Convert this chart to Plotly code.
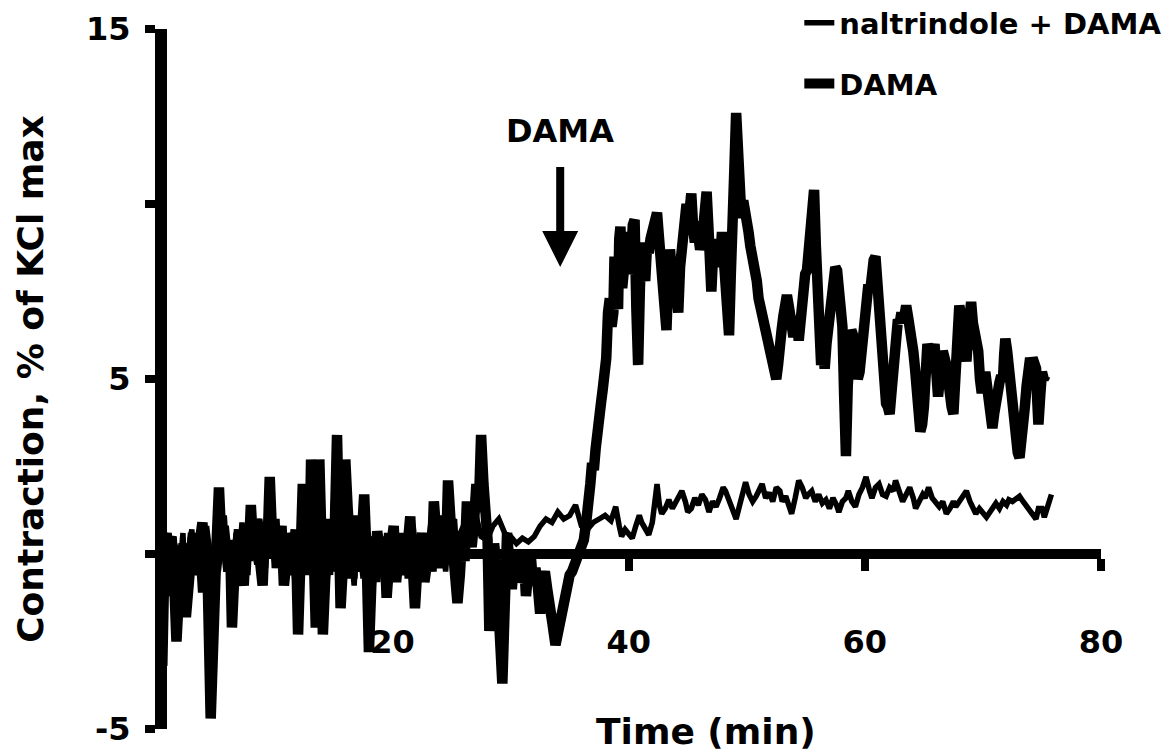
import plotly.graph_objects as go

# ---------------- data ----------------
# DAMA alone (thick trace): time (min), contraction (% of KCl max)
dama_t = [0.0, 0.15, 0.3, 0.4, 0.5, 0.62, 0.75, 0.87, 1.0, 1.2, 1.4, 1.55, 1.7, 1.9, 2.1, 2.3, 2.5, 2.7, 2.9, 3.1,
          3.3, 3.5, 3.7, 3.9, 4.1, 4.35, 4.6, 4.75, 4.9, 5.1, 5.3, 5.5, 5.7, 5.9, 6.1, 6.25, 6.4, 6.6, 6.8, 7.0,
          7.2, 7.4, 7.6, 7.8, 8.0, 8.2, 8.4, 8.6, 8.8, 9.0, 9.2, 9.4, 9.6, 9.8, 10.0, 10.2, 10.4, 10.6, 10.8, 11.0,
          11.2, 11.4, 11.6, 11.8, 12.0, 12.2, 12.4, 12.6, 12.8, 12.95, 13.1, 13.3, 13.5, 13.65, 13.8, 13.95, 14.1, 14.3, 14.5, 14.7,
          14.9, 15.1, 15.3, 15.45, 15.6, 15.8, 16.0, 16.2, 16.4, 16.6, 16.8, 17.0, 17.2, 17.4, 17.6, 17.8, 18.0, 18.2, 18.4, 18.55,
          18.7, 18.9, 19.1, 19.3, 19.5, 19.7, 19.9, 20.1, 20.3, 20.5, 20.7, 20.9, 21.1, 21.3, 21.5, 21.7, 21.9, 22.1, 22.3, 22.5,
          22.7, 22.9, 23.1, 23.3, 23.5, 23.7, 23.9, 24.1, 24.3, 24.5, 24.7, 24.9, 25.1, 25.3, 25.5, 25.7, 25.9, 26.1, 26.3, 26.5,
          26.7, 26.9, 27.1, 27.3, 27.5, 27.7, 27.9, 28.05, 28.2, 28.4, 28.6, 28.8, 29.0, 29.15, 29.3, 29.5, 29.7, 29.9, 30.1, 30.3,
          30.5, 30.7, 30.9, 31.1, 31.3, 31.5, 31.7, 31.9, 32.1, 32.3, 32.5, 32.7, 32.9, 33.1, 33.3, 33.55, 33.8, 34.0, 34.2, 34.4,
          34.6, 34.8, 35.0, 35.2, 35.4, 35.6, 35.8,
          36.2, 36.4, 36.6, 36.75, 36.9, 37.05, 37.2, 37.35, 37.5, 37.65, 37.8, 37.95, 38.1, 38.25, 38.4, 38.55, 38.7, 38.8,
          38.9, 39.0, 39.1, 39.2, 39.3, 39.45, 39.6, 39.75, 39.9, 40.05, 40.2, 40.35, 40.5, 40.65, 40.8, 40.95, 41.1, 41.25,
          41.4, 41.55, 41.7, 41.85, 42.0, 42.2, 42.4, 42.55, 42.7, 42.85, 43.0, 43.1, 43.2, 43.35, 43.5, 43.65, 43.8, 44.0,
          44.2, 44.35, 44.5, 44.7, 44.9, 45.1, 45.3, 45.45, 45.6, 45.75, 45.9, 46.05, 46.2, 46.4, 46.6, 46.8, 47.0, 47.15,
          47.3, 47.45, 47.6, 47.75, 47.9, 48.05, 48.2, 48.35, 48.5, 48.65, 48.8, 48.95, 49.1, 49.25, 49.4, 49.55, 49.7, 49.85,
          50.0, 50.15, 50.3, 50.5, 50.7, 50.85, 51.0, 51.2, 51.4, 51.6, 51.8, 51.95, 52.1, 52.3, 52.5, 52.65, 52.8, 52.95,
          53.1, 53.25, 53.4, 53.6, 53.8, 53.95, 54.1, 54.25, 54.4, 54.6, 54.8, 54.95, 55.1, 55.25, 55.4, 55.55, 55.7, 55.85,
          56.0, 56.15, 56.3, 56.45, 56.6, 56.75, 56.9, 57.05, 57.2, 57.35, 57.5, 57.65, 57.8, 57.95, 58.1, 58.25, 58.4, 58.55,
          58.7, 58.85, 59.0, 59.2, 59.4, 59.55, 59.7, 59.85, 60.0, 60.15, 60.3, 60.45, 60.6, 60.75, 60.9, 61.05, 61.2, 61.35,
          61.5, 61.65, 61.8, 61.95, 62.1, 62.25, 62.4, 62.6, 62.8, 62.95, 63.1, 63.3, 63.5, 63.65, 63.8, 63.95, 64.1, 64.25,
          64.4, 64.55, 64.7, 64.85, 65.0, 65.15, 65.3, 65.45, 65.6, 65.75, 65.9, 66.05, 66.2, 66.4, 66.6, 66.75, 66.9, 67.05,
          67.2, 67.35, 67.5, 67.65, 67.8, 67.9, 68.0, 68.15, 68.3, 68.45, 68.6, 68.8, 69.0, 69.15, 69.3, 69.45, 69.6, 69.75,
          69.9, 70.05, 70.2, 70.35, 70.5, 70.65, 70.8, 70.95, 71.1, 71.25, 71.4, 71.55, 71.7, 71.8, 71.9, 72.05, 72.2, 72.35,
          72.5, 72.65, 72.8, 72.95, 73.1, 73.25, 73.4, 73.55, 73.7, 73.85, 74.0, 74.1, 74.2, 74.35, 74.5, 74.6, 74.7, 74.85,
          75.0, 75.15, 75.3]
dama_y = [-1.8, -0.5, 0.5, -1.0, -3.2, -1.2, 0.3, 0.6, -1.0, 0.4, 0.2, -0.6, -2.5, -1.2, -0.5, 0.3, -1.8, -0.9, 0.3, 0.6,
          -0.6, -0.2, 0.5, 0.9, -0.3, -0.8, -4.7, -2.0, -1.0, 0.3, 1.9, 0.4, 0.8, -0.3, -0.5, 0.3, -2.1, -0.6, 0.2, 0.7,
          -0.4, -0.9, 0.6, -0.2, 1.4, 0.2, 1.0, 0.5, -0.2, -0.9, 0.8, 0.1, 2.2, 0.5, 1.0, -0.4, 0.3, 0.8, -0.9, -0.1,
          0.4, -0.6, 0.0, 0.7, -2.3, -0.5, 2.0, -0.3, 0.5, -0.6, 2.7, 0.4, -2.1, -0.2, 2.7, 0.8, -2.3, -0.7, 0.5, 1.0,
          -0.5, 0.6, 3.4, 1.2, -1.55, -0.3, 2.7, 1.3, 0.3, -0.7, 1.1, 0.2, -0.5, 0.5, 1.7, 0.0, -2.8, -0.9, 0.2, -0.5,
          0.65, 0.1, -0.3, 0.5, -1.25, -0.3, 0.4, 0.8, -0.8, 0.2, 0.6, -0.6, -0.2, 0.3, 1.07, 0.0, -1.55, -0.4, 0.3, 0.6,
          -0.8, -0.2, 0.2, -0.5, 1.5, 0.6, -0.4, 0.2, 0.8, -0.3, 2.1, 1.0, 0.4, -0.3, -1.4, -0.6, 0.5, -0.2, 1.5, 0.7,
          0.2, 0.9, 2.0, 1.2, 3.4, 2.0, 1.1, 0.4, -2.2, -0.8, 0.3, -0.4, -1.5, -2.4, -3.7, -1.5, 0.6, -0.3, -1.0, -0.2,
          0.1, -0.8, -0.6, 0.0, -1.2, -0.5, 0.0, -0.9, -0.4, -0.9, -1.7, -0.8, -0.5, -1.0, -1.3, -2.0, -2.6, -2.2, -2.0, -1.8,
          -1.3, -0.8, -0.6, -0.5, -0.3, -0.1, 0.15,
          0.4, 0.9, 1.3, 2.0, 2.6, 2.4, 3.0, 3.3, 3.6, 4.3, 4.7, 5.2, 5.6, 6.9, 7.3, 6.5, 6.9, 8.5,
          8.2, 7.2, 7.0, 9.0, 9.35, 7.6, 8.2, 8.9, 9.2, 8.0, 8.4, 9.4, 9.55, 7.0, 5.4, 7.6, 8.9, 8.4,
          7.8, 8.8, 8.6, 9.0, 9.3, 9.5, 9.75, 9.1, 8.5, 7.8, 7.0, 6.6, 6.4, 7.9, 8.7, 8.0, 8.2, 7.6,
          6.9, 8.2, 8.6, 9.4, 10.0, 9.6, 10.3, 9.4, 8.9, 9.5, 9.0, 8.7, 8.9, 9.9, 10.35, 9.0, 7.5, 8.6,
          8.2, 9.0, 8.8, 8.4, 9.2, 8.6, 7.6, 6.8, 6.25, 8.0, 9.0, 11.0, 12.6, 11.4, 10.4, 9.6, 10.1, 9.9,
          9.5, 9.2, 8.8, 8.5, 8.0, 7.8, 7.3, 7.0, 6.8, 6.5, 6.3, 5.9, 5.6, 5.3, 5.0, 5.4, 5.7, 6.4,
          6.8, 7.1, 7.4, 7.0, 6.7, 6.2, 6.5, 6.8, 6.1, 7.2, 7.5, 8.0, 8.1, 8.8, 9.0, 9.8, 10.4, 8.8,
          7.5, 6.4, 5.4, 5.9, 5.3, 6.0, 6.5, 7.2, 7.6, 8.0, 8.2, 8.1, 7.6, 7.0, 6.5, 4.5, 2.8, 4.8,
          6.0, 6.4, 6.25, 5.5, 5.0, 5.2, 5.6, 6.3, 6.8, 7.3, 7.7, 7.5, 8.2, 8.4, 8.5, 7.6, 6.7, 6.2,
          5.8, 5.0, 4.3, 4.2, 4.0, 4.6, 5.3, 6.3, 6.7, 6.6, 6.9, 6.7, 7.1, 6.8, 6.2, 6.0, 5.8, 5.3,
          4.8, 4.0, 3.5, 3.7, 4.2, 5.2, 6.0, 5.8, 5.5, 5.9, 6.0, 5.2, 4.5, 5.2, 5.8, 5.6, 5.4, 4.8,
          4.5, 4.2, 4.0, 4.8, 5.6, 6.4, 7.1, 6.8, 6.5, 5.9, 5.5, 6.5, 7.2, 6.6, 6.3, 6.0, 5.8, 5.0,
          4.6, 4.9, 5.2, 4.8, 4.3, 3.9, 3.6, 4.0, 4.5, 4.8, 4.9, 5.1, 5.0, 5.7, 6.15, 5.8, 5.3, 4.6,
          4.0, 3.5, 3.3, 2.9, 2.75, 3.1, 3.6, 4.2, 4.8, 5.3, 5.6, 5.4, 5.6, 5.5, 5.3, 4.4, 3.7, 4.5,
          5.2, 5.0, 5.1]

# naltrindole + DAMA (thin trace)
nal_t = [0.0, 0.25, 0.5, 0.75, 1.0, 1.25, 1.5, 1.75, 2.0, 2.25, 2.5, 2.75, 3.0, 3.25, 3.5, 3.75, 4.0, 4.25, 4.5, 4.75,
         5.0, 5.25, 5.5, 5.75, 6.0, 6.25, 6.5, 6.75, 7.0, 7.25, 7.5, 7.75, 8.0, 8.25, 8.5, 8.75, 9.0, 9.25, 9.5, 9.75,
         10.0, 10.25, 10.5, 10.75, 11.0, 11.25, 11.5, 11.75, 12.0, 12.25, 12.5, 12.75, 13.0, 13.25, 13.5, 13.75, 14.0, 14.25, 14.5, 14.75,
         15.0, 15.25, 15.5, 15.75, 16.0, 16.25, 16.5, 16.75, 17.0, 17.25, 17.5, 17.75, 18.0, 18.25, 18.5, 18.75, 19.0, 19.25, 19.5, 19.75,
         20.0, 20.25, 20.5, 20.75, 21.0, 21.25, 21.5, 21.75, 22.0, 22.25, 22.5, 22.75, 23.0, 23.25, 23.5, 23.75, 24.0, 24.25, 24.5, 24.75,
         25.0, 25.25, 25.5, 25.75, 26.0, 26.5, 27.0, 27.5, 28.0, 28.5, 29.0, 29.5, 30.0, 30.5, 31.0, 31.5, 32.0, 32.5, 33.0, 33.5,
         34.0, 34.5, 35.0, 35.5, 36.0, 36.5, 37.0, 37.5, 38.0, 38.5, 38.9, 39.2, 39.4, 39.7, 40.0, 40.3, 40.6, 40.9, 41.1, 41.4,
         41.7, 42.0, 42.2, 42.4, 42.6, 42.8, 43.1, 43.4, 43.7, 44.0, 44.2, 44.5, 44.8, 45.0, 45.3, 45.6, 45.9, 46.2, 46.5, 46.8,
         47.1, 47.4, 47.7, 48.0, 48.2, 48.5, 48.8, 49.1, 49.4, 49.7, 49.9, 50.2, 50.5, 50.8, 51.0, 51.3, 51.6, 51.9, 52.2, 52.5,
         52.8, 53.0, 53.3, 53.6, 53.8, 54.1, 54.4, 54.7, 55.0, 55.2, 55.5, 55.8, 56.1, 56.4, 56.7, 57.0, 57.3, 57.6, 57.8, 58.1,
         58.4, 58.6, 58.9, 59.2, 59.5, 59.8, 60.1, 60.4, 60.6, 60.9, 61.2, 61.5, 61.8, 62.1, 62.4, 62.6, 62.9, 63.2, 63.5, 63.8,
         64.1, 64.3, 64.6, 64.9, 65.1, 65.4, 65.7, 66.0, 66.3, 66.6, 66.9, 67.2, 67.5, 67.7, 68.0, 68.3, 68.6, 68.9, 69.2, 69.4,
         69.7, 70.0, 70.3, 70.6, 70.9, 71.1, 71.4, 71.7, 72.0, 72.2, 72.5, 72.8, 73.1, 73.4, 73.6, 73.9, 74.2, 74.5, 74.7, 75.0,
         75.2, 75.5, 75.8]
nal_y = [-1.5, 0.4, -0.8, 0.6, -1.2, 0.3, 0.5, -0.9, -0.4, 0.6, -1.3, 0.2, 0.7, -0.4, 0.3, -1.1, -0.2, 0.8, 0.1, -0.9,
         0.8, -0.5, 0.3, 1.1, -0.3, 0.4, -0.8, 0.6, -0.2, 0.9, 0.1, -0.6, 0.9, 0.3, -0.3, 1.0, 0.5, -0.4, 1.3, 0.6,
         -0.2, 0.8, 0.2, -0.7, -0.2, 0.6, 0.3, -0.9, -0.3, 0.9, 0.4, -0.5, 0.1, 1.2, 0.5, -0.7, 0.2, 0.9, 0.4, -0.6,
         1.5, 0.6, 0.2, 1.0, -0.4, 0.7, 0.1, -0.9, 0.6, 0.2, -0.7, 0.4, -0.6, 0.5, 0.1, -0.8, 0.2, -0.5, 0.6, -0.3,
         0.4, -0.6, 0.3, -0.2, 0.5, -0.7, 0.2, 0.8, -0.4, 0.3, -0.6, 0.6, 0.2, 0.9, -0.2, 0.5, 1.1, 0.3, -0.5, 0.8,
         0.3, 1.0, -0.4, 0.6, 0.8, 0.4, 1.2, 0.5, 0.4, 0.8, 1.0, 0.6, 0.5, 0.3, 0.45, 0.35, 0.5, 0.8, 1.0, 0.9,
         1.2, 1.0, 1.1, 1.4, 0.8, 0.7, 0.9, 1.0, 1.1, 0.95, 1.35, 0.8, 0.5, 0.7, 0.6, 0.45, 0.8, 1.1, 0.9, 0.7,
         0.55, 0.9, 1.6, 2.0, 1.4, 1.15, 1.3, 1.55, 1.3, 1.5, 1.6, 1.8, 1.5, 1.2, 1.3, 1.6, 1.4, 1.7, 1.55, 1.2,
         1.5, 1.35, 1.6, 1.9, 1.8, 1.5, 1.3, 1.0, 1.4, 1.8, 2.05, 1.7, 1.5, 1.65, 1.8, 2.0, 1.6, 1.75, 1.5, 1.9,
         1.8, 1.5, 1.65, 1.4, 1.15, 1.6, 2.1, 1.9, 1.6, 1.7, 1.8, 1.5, 1.7, 1.45, 1.55, 1.3, 1.6, 1.4, 1.2, 1.5,
         1.6, 1.8, 1.5, 1.35, 1.7, 1.9, 2.2, 1.8, 1.6, 1.9, 2.0, 1.7, 1.65, 1.9, 1.8, 2.1, 1.8, 1.5, 1.7, 1.9,
         1.6, 1.3, 1.5, 1.7, 1.6, 1.9, 1.6, 1.5, 1.35, 1.5, 1.15, 1.3, 1.5, 1.35, 1.5, 1.6, 1.8, 1.5, 1.3, 1.15,
         1.3, 1.2, 1.05, 1.2, 1.35, 1.45, 1.3, 1.5, 1.4, 1.55, 1.5, 1.6, 1.65, 1.5, 1.4, 1.3, 1.1, 1.0, 1.3, 1.3,
         1.05, 1.4, 1.7]

x_ticks = [20, 40, 60, 80]
y_ticks = [-5, 0, 5, 10, 15]
y_ticktext = ["-5", "", "5", "", "15"]
DAMA_ADDED = 34.2   # time of DAMA addition (arrow)

FONT = "DejaVu Sans"

fig = go.Figure()
fig.add_trace(go.Scatter(x=nal_t, y=nal_y, mode="lines", name="naltrindole + DAMA",
                         line=dict(color="black", width=5.5), legendgroup="a"))
fig.add_trace(go.Scatter(x=dama_t, y=dama_y, mode="lines", name="DAMA",
                         line=dict(color="black", width=10.5), legendgroup="b"))

fig.update_layout(
    width=1170, height=755,
    margin=dict(l=167, r=69, t=29, b=26, autoexpand=False),
    plot_bgcolor="white", paper_bgcolor="white",
    font=dict(family=FONT, color="black", size=30, weight="bold"),
    showlegend=True,
    legend=dict(x=0.677, y=1.045, xanchor="left", yanchor="top",
                font=dict(size=29, family=FONT, weight="bold"),
                tracegroupgap=20, bgcolor="rgba(0,0,0,0)", itemwidth=30),
    xaxis=dict(range=[0.9, 80], tickvals=x_ticks, ticks="outside", ticklen=12, tickwidth=8,
               tickcolor="black", showline=True, linewidth=10, linecolor="black",
               showgrid=False, zeroline=False, anchor="free", position=0.25,
               layer="below traces", ticklabelstandoff=44, automargin=False,
               tickfont=dict(size=32, family=FONT, weight="bold")),
    yaxis=dict(range=[-5, 15], tickvals=y_ticks, ticktext=y_ticktext, ticks="outside",
               ticklen=10, tickwidth=8, tickcolor="black", showline=True, linewidth=12,
               linecolor="black", showgrid=False, zeroline=False, ticklabelstandoff=8,
               automargin=False,
               tickfont=dict(size=32, family=FONT, weight="bold"),
               title=dict(text="Contraction, % of KCl max", standoff=36,
                          font=dict(size=36, family=FONT, weight="bold"))),
)

# DAMA addition arrow + label
fig.add_annotation(x=DAMA_ADDED, y=8.2, ax=DAMA_ADDED, ay=11.1, xref="x", yref="y",
                   axref="x", ayref="y", text="", showarrow=True, arrowhead=2,
                   arrowwidth=8, arrowsize=0.9, arrowcolor="black")
fig.add_annotation(x=DAMA_ADDED, y=12.1, xref="x", yref="y", text="DAMA", showarrow=False,
                   font=dict(size=32, family=FONT, weight="bold"))
# x-axis title
fig.add_annotation(x=0.577, y=-0.004, xref="paper", yref="paper", text="Time (min)",
                   showarrow=False, yanchor="middle",
                   font=dict(size=36, family=FONT, weight="bold"))

fig.write_html("out.html")
